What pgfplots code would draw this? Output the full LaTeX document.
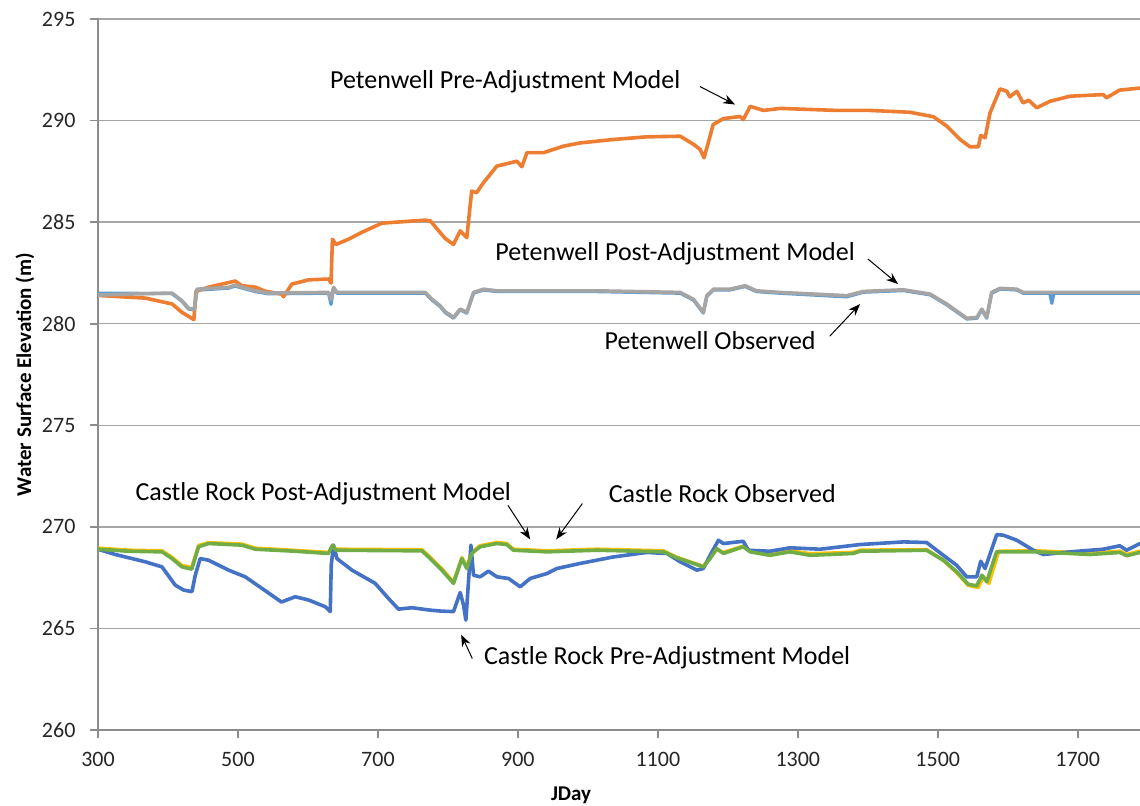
\documentclass[border=0pt]{standalone}
\usepackage{fontspec}
\setmainfont{Carlito}
\usepackage{pgfplots}
\pgfplotsset{compat=1.18}
\usepackage{pgfplotstable}
\usetikzlibrary{arrows.meta}
\definecolor{pwobs}{HTML}{5B9BD5}
\definecolor{pwpre}{HTML}{ED7D31}
\definecolor{pwpost}{HTML}{A5A5A5}
\definecolor{crobs}{HTML}{FFC000}
\definecolor{crpre}{HTML}{4472C4}
\definecolor{crpost}{HTML}{70AD47}
\definecolor{gridc}{HTML}{A6A6A6}
\definecolor{axc}{HTML}{8C8C8C}

\pgfplotstableread{
x y
300 281.4
306 281.38
368 281.26
406 280.97
420 280.56
437 280.2
440 281.6
458 281.8
496 282.1
505.7 281.87
525 281.8
539 281.6
563 281.46
565 281.33
577 281.95
601 282.16
629.5 282.2
633 282.0
635 284.16
640 283.9
658 284.16
677 284.5
705.7 284.95
767.6 285.1
775 285.06
796 284.2
808 283.9
817.6 284.57
827 284.24
834 286.53
841 286.45
851 286.95
870 287.76
898.6 288.0
905.7 287.73
913 288.42
936.6 288.42
965 288.74
989 288.9
1036.6 289.07
1084 289.2
1132 289.23
1151 288.83
1160.4 288.58
1166 288.17
1172 288.9
1179 289.8
1193.7 290.1
1217.6 290.2
1222 290.05
1232 290.7
1251 290.5
1275 290.6
1355.7 290.5
1403 290.5
1460 290.41
1493.7 290.19
1512.8 289.73
1531.9 289.07
1546 288.71
1558 288.71
1561.4 289.27
1567.6 289.15
1574.7 290.38
1589 291.56
1598.6 291.44
1603 291.17
1613 291.44
1622 290.87
1630 291.0
1641.4 290.63
1660.4 290.95
1689 291.2
1736.6 291.28
1741 291.12
1760 291.5
1789 291.6
}\pwpre

\pgfplotstableread{
x y
300 281.41
343.7 281.46
405.7 281.51
420 281.13
429.4 280.76
437.6 280.72
441.4 281.7
486.6 281.79
496 281.9
524.7 281.62
543.7 281.51
629.4 281.54
633 281.2
636.6 281.79
641.4 281.54
767.6 281.54
777 281.21
789 280.88
796 280.59
808 280.31
817.6 280.72
827 280.56
836.6 281.54
851 281.7
870 281.62
1012.9 281.62
1131.9 281.54
1151 281.2
1165 280.56
1170 281.38
1179.4 281.7
1203 281.7
1224.7 281.87
1241 281.62
1274.7 281.54
1370 281.38
1393.7 281.59
1451 281.67
1489 281.46
1512.8 280.97
1541.4 280.27
1556 280.31
1563 280.72
1570 280.31
1577 281.54
1589 281.74
1613 281.7
1622 281.54
1689 281.54
1789 281.54
}\pwpost

\pgfplotstableread{
x y
300 281.5
343.7 281.5
405.7 281.48
420 281.1
429.4 280.72
437.6 280.68
441.4 281.65
486.6 281.75
496 281.85
524.7 281.58
543.7 281.47
629.4 281.5
633 280.95
636.6 281.75
641.4 281.5
767.6 281.5
777 281.17
789 280.84
796 280.55
808 280.27
817.6 280.68
827 280.52
836.6 281.5
851 281.66
870 281.58
1012.9 281.58
1131.9 281.5
1151 281.16
1165 280.52
1170 281.34
1179.4 281.66
1203 281.66
1224.7 281.83
1241 281.58
1274.7 281.5
1370 281.32
1393.7 281.55
1451 281.63
1489 281.42
1512.8 280.93
1541.4 280.23
1556 280.27
1563 280.68
1570 280.27
1577 281.5
1589 281.7
1613 281.66
1622 281.5
1660 281.5
1663 281.0
1666 281.5
1689 281.5
1789 281.5
}\pwobs

\pgfplotstableread{
x y
300 268.9
343.7 268.8
391.4 268.77
405.7 268.44
420 268.03
434 267.92
443.7 269.02
458 269.18
505.7 269.1
524.7 268.9
581.9 268.8
629.4 268.69
635 269.1
640 268.85
762.9 268.82
774.7 268.44
791.4 267.87
808 267.22
820 268.44
827 267.95
834 268.69
846 269.02
870 269.18
884 269.13
893.7 268.85
941.4 268.77
1012.9 268.85
1108 268.77
1127 268.48
1151 268.2
1165 268.03
1174.7 268.44
1184 268.93
1193.7 268.69
1222 269.02
1232 268.77
1260 268.6
1289 268.77
1317.6 268.6
1379 268.69
1389 268.8
1484 268.85
1508 268.36
1527 267.79
1543.7 267.17
1555.7 267.1
1563 267.62
1570 267.3
1584 268.77
1641.4 268.77
1717.6 268.64
1760.4 268.74
1770 268.58
1789 268.74
}\crpost

\pgfplotstableread{
x y
300 268.95
343.7 268.85
391.4 268.82
405.7 268.5
420 268.1
434 268.0
443.7 269.08
458 269.22
505.7 269.15
524.7 268.95
581.9 268.84
629.4 268.74
635 269.05
640 268.9
762.9 268.87
774.7 268.5
791.4 267.93
808 267.28
820 268.48
827 268.0
834 268.74
846 269.07
870 269.23
884 269.18
893.7 268.9
941.4 268.82
1012.9 268.9
1108 268.82
1127 268.5
1151 268.22
1165 268.05
1174.7 268.48
1184 268.9
1193.7 268.74
1222 269.05
1232 268.82
1260 268.65
1289 268.82
1317.6 268.68
1379 268.74
1389 268.85
1484 268.88
1508 268.35
1527 267.75
1543.7 267.12
1558 267.02
1565 267.55
1573 267.22
1587 268.8
1641.4 268.82
1717.6 268.7
1760.4 268.8
1770 268.64
1789 268.8
}\crobs

\pgfplotstableread{
x y
300 268.9
324.7 268.64
367.6 268.28
391.4 268.03
410.4 267.13
422.3 266.89
434.3 266.81
439 267.62
446 268.44
458 268.36
486.6 267.87
510.4 267.54
534.3 266.97
558 266.4
562 266.3
581.9 266.56
600.9 266.4
624.7 266.07
631.9 265.83
633.3 268.11
636.6 269.1
641.4 268.44
662.9 267.87
696 267.22
715 266.48
729.4 265.95
748.6 266.02
774.7 265.9
791.4 265.85
808 265.83
817.6 266.77
822.3 266.15
825.7 265.41
829.4 267.3
832.9 269.1
836.6 267.62
846 267.54
858 267.82
870 267.54
886.6 267.46
903.3 267.05
917.6 267.46
941.4 267.7
955.7 267.95
989 268.2
1036.6 268.52
1084 268.74
1112.9 268.69
1131.9 268.28
1155.7 267.87
1165 267.95
1174.7 268.6
1186.6 269.34
1193.7 269.18
1222 269.29
1229.4 268.85
1260 268.8
1289 268.97
1331.9 268.9
1389 269.13
1450.9 269.26
1484 269.23
1508 268.6
1527 268.11
1541.4 267.54
1555.7 267.54
1561.4 268.31
1567.6 267.95
1584.3 269.62
1593.8 269.59
1613 269.34
1636.6 268.85
1651 268.64
1689 268.77
1736.6 268.9
1760 269.07
1770 268.85
1789 269.18
}\crpre

\begin{document}
\begin{tikzpicture}
\begin{axis}[
  scale only axis,
  width=521pt, height=355.5pt,
  xmin=300, xmax=1789, ymin=260, ymax=295,
  xtick={300,500,...,1700}, ytick={260,265,...,295},
  axis x line=bottom, axis y line=left,
  x axis line style={-, draw=axc, line width=0.8pt},
  y axis line style={-, draw=axc, line width=0.8pt},
  tick align=outside, major tick length=3.75pt,
  tick style={draw=axc, line width=0.8pt},
  xtick pos=bottom, ytick pos=left,
  ymajorgrids, grid style={draw=gridc, line width=0.75pt},
  /pgf/number format/assume math mode=true,
  /pgf/number format/1000 sep={},
  ticklabel style={font=\fontsize{11}{13}\selectfont, text=black!85},
  xticklabel style={yshift=-4pt},
  yticklabel style={xshift=-4pt},
  every axis y label/.style={at={(axis description cs:0,0.5)}, xshift=-36.5pt, rotate=90, anchor=center},
  every axis x label/.style={at={(axis cs:976,260)}, yshift=-32.5pt, anchor=center},
  label style={font=\bfseries\fontsize{10.5}{12}\selectfont},
  ylabel={Water Surface Elevation (m)},
  xlabel={JDay},
  line join=round, line cap=round,
  clip=true,
]
\addplot[pwobs, line width=1.6pt] table {\pwobs};
\addplot[pwpre, line width=1.8pt] table {\pwpre};
\addplot[pwpost, line width=1.8pt] table {\pwpost};
\addplot[crobs, line width=1.8pt] table {\crobs};
\addplot[crpre, line width=1.8pt] table {\crpre};
\addplot[crpost, line width=1.8pt] table {\crpost};

\begin{scope}[every node/.style={font=\fontsize{13}{15}\selectfont, text=black}]
\node at (axis cs:881.9,291.92) {Petenwell Pre-Adjustment Model};
\node at (axis cs:1124.7,283.47) {Petenwell Post-Adjustment Model};
\node at (axis cs:1174.7,279.15) {Petenwell Observed};
\node at (axis cs:621.9,271.63) {Castle Rock Post-Adjustment Model};
\node at (axis cs:1192,271.63) {Castle Rock Observed};
\node at (axis cs:1113.3,263.57) {Castle Rock Pre-Adjustment Model};
\end{scope}
\begin{scope}[-{Stealth[length=6pt,width=4.5pt]}, line width=0.5pt, black]
\draw (axis cs:1160.4,291.67) -- (axis cs:1210.4,290.79);
\draw (axis cs:1400.4,283.18) -- (axis cs:1443.3,281.95);
\draw (axis cs:1346,279.4) -- (axis cs:1389,280.97);
\draw (axis cs:886,271.05) -- (axis cs:917.6,269.38);
\draw (axis cs:992,271.14) -- (axis cs:954.7,269.38);
\draw (axis cs:834.7,263.53) -- (axis cs:819,264.7);
\end{scope}
\end{axis}
\pgfresetboundingbox
\path (-49pt,-37.5pt) rectangle (521pt,365pt);
\end{tikzpicture}
\end{document}
